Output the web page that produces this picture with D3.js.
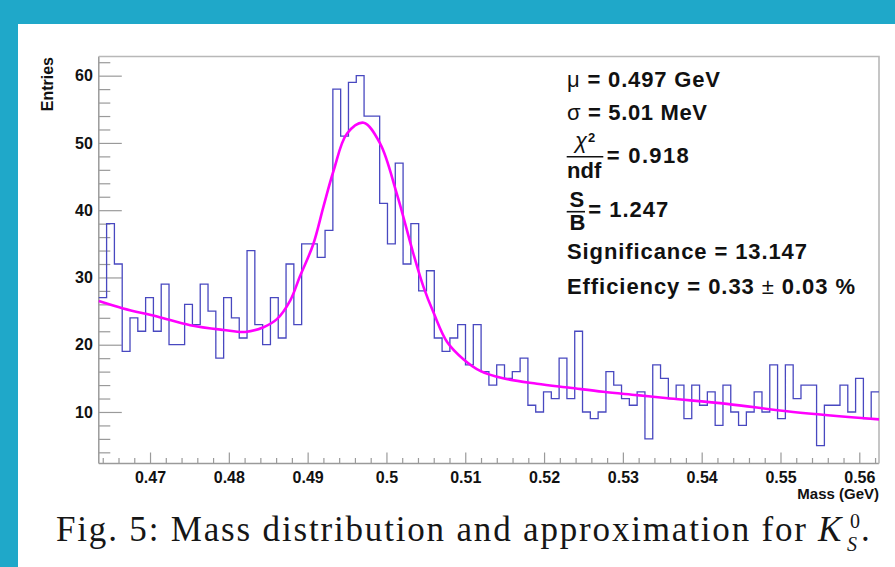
<!DOCTYPE html>
<html>
<head>
<meta charset="utf-8">
<script src="https://cdn.jsdelivr.net/npm/d3@7"></script>
<style>
  html, body { margin: 0; padding: 0; background: #1fa8c9; }
  svg { display: block; }
</style>
</head>
<body>
<svg id="chart" width="895" height="567"></svg>
<script>
// histogram: 100 bins between massMin and massMax
const massMin = 0.4635;
const massMax = 0.5625;
const binCounts = [
  27, 38, 32, 19, 24, 22, 27, 22, 29, 20,
  20, 26, 23, 29, 25, 18, 27, 24, 21, 34,
  23, 20, 27, 21, 32, 23, 35, 35, 33, 37,
  58, 51, 59, 60, 54, 54, 41, 35, 47, 32,
  38, 28, 31, 21, 19, 21, 23, 17, 23, 16,
  14, 17, 15, 16, 18, 11, 10, 13, 12, 18,
  12, 22, 10, 9, 10, 16, 14, 12, 11, 13,
  6, 17, 15, 12, 14, 9, 14, 11, 13, 8,
  14, 10, 8, 10, 13, 10, 17, 9, 17, 12,
  14, 14, 5, 11, 11, 14, 10, 15, 9, 13
];

// fit curve
const fitMass = [0.4635, 0.4666, 0.4709, 0.4751, 0.4793, 0.4821, 0.4844, 0.4861, 0.4878,
  0.4890, 0.4907, 0.4920, 0.4933, 0.4950, 0.4971, 0.4992, 0.5013, 0.5034, 0.5047,
  0.5060, 0.5077, 0.5098, 0.5119, 0.5148, 0.5191, 0.5233, 0.5275, 0.5318, 0.5360,
  0.5432, 0.5516, 0.5625];
const fitValue = [26.5, 25.4, 24.2, 22.9, 22.2, 21.9, 22.6, 23.8, 26.6,
  30.1, 34.9, 40.5, 45.9, 51.4, 53.0, 49.9, 42.5, 33.6, 28.6,
  24.7, 20.4, 17.8, 16.1, 15.0, 14.2, 13.6, 13.0, 12.5, 12.0,
  11.2, 10.0, 8.9];

const xTicks = [0.47, 0.48, 0.49, 0.50, 0.51, 0.52, 0.53, 0.54, 0.55, 0.56];
const yTicks = [10, 20, 30, 40, 50, 60];

const svg = d3.select('#chart');
svg.append('rect').attr('width', 895).attr('height', 567).attr('fill', '#1fa8c9');
svg.append('rect').attr('x', 18).attr('y', 24).attr('width', 877).attr('height', 543).attr('fill', '#ffffff');

const plotLeft = 98.8, plotRight = 879, plotTop = 56.5, plotBottom = 463.5;
let x = d3.scaleLinear().domain([massMin, massMax]).range([plotLeft, plotRight]);
let y = d3.scaleLinear().domain([2.34, 62.85]).range([plotBottom, plotTop]);

const axisColor = '#9a9a9a';
const labelFont = '"Liberation Sans", Arial, Helvetica, sans-serif';

// minor ticks
let xMinor = d3.range(232, 282).filter(i => i % 5 !== 0).map(i => i * 0.002);
let yMinor = d3.range(4, 63, 2).filter(v => v % 10 !== 0);

let gx = svg.append('g').attr('transform', `translate(0,${plotBottom})`);
gx.call(d3.axisBottom(x).tickValues(xMinor).tickSize(-5.5).tickFormat(''));
gx.append('g').call(d3.axisBottom(x).tickValues(xTicks).tickSize(-11).tickPadding(8)
  .tickFormat(d => String(+d.toFixed(2))));

let gy = svg.append('g').attr('transform', `translate(${plotLeft},0)`);
gy.call(d3.axisLeft(y).tickValues(yMinor).tickSize(-11.5).tickFormat(''));
gy.append('g').call(d3.axisLeft(y).tickValues(yTicks).tickSize(-23).tickPadding(6));

svg.selectAll('.domain').remove();
svg.selectAll('.tick line').attr('stroke', axisColor).attr('stroke-width', 1.2);
svg.selectAll('.tick text')
  .attr('fill', '#111')
  .style('font-family', labelFont)
  .style('font-weight', 'bold')
  .style('font-size', '16px');

// axis lines and frame
svg.append('line').attr('x1', plotLeft).attr('x2', plotRight).attr('y1', plotBottom).attr('y2', plotBottom)
  .attr('stroke', axisColor).attr('stroke-width', 1.5);
svg.append('line').attr('x1', plotLeft).attr('x2', plotLeft).attr('y1', plotTop).attr('y2', plotBottom)
  .attr('stroke', axisColor).attr('stroke-width', 1.5);
svg.append('path')
  .attr('d', `M${plotLeft},${plotTop}H${plotRight}V${plotBottom}`)
  .attr('fill', 'none').attr('stroke', '#b8b8b8').attr('stroke-width', 1.6);

// histogram outline
const binWidth = (massMax - massMin) / binCounts.length;
let steps = binCounts.flatMap((c, i) => [
  [massMin + i * binWidth, c],
  [massMin + (i + 1) * binWidth, c]
]);
svg.append('path')
  .datum(steps)
  .attr('fill', 'none')
  .attr('stroke', '#4848c0')
  .attr('stroke-width', 1.3)
  .attr('d', d3.line().x(d => x(d[0])).y(d => y(d[1])));

// fit curve
let fitPoints = fitMass.map((m, i) => [m, fitValue[i]]);
svg.append('path')
  .datum(fitPoints)
  .attr('fill', 'none')
  .attr('stroke', '#ff00ff')
  .attr('stroke-width', 2.6)
  .attr('d', d3.line().curve(d3.curveCatmullRom.alpha(0.5)).x(d => x(d[0])).y(d => y(d[1])));

// axis titles
svg.append('text')
  .attr('x', plotRight).attr('y', 499)
  .attr('text-anchor', 'end')
  .style('font-family', labelFont).style('font-weight', 'bold').style('font-size', '15px')
  .attr('fill', '#111')
  .text('Mass (GeV)');

svg.append('text')
  .attr('transform', 'translate(52.5,57) rotate(-90)')
  .attr('text-anchor', 'end')
  .style('font-family', labelFont).style('font-weight', 'bold').style('font-size', '16px')
  .attr('fill', '#111')
  .text('Entries');

// fit results box
const statFont = 22;
function statText(xp, yp, width) {
  let t = svg.append('text')
    .attr('x', xp).attr('y', yp)
    .style('font-family', labelFont).style('font-weight', 'bold')
    .style('font-size', statFont + 'px')
    .attr('fill', '#111');
  if (width) t.attr('textLength', width).attr('lengthAdjust', 'spacing');
  return t;
}

let muLine = statText(567, 86.7, 153);
muLine.append('tspan').style('font-weight', 'normal').text('\u03bc');
muLine.append('tspan').text(' = 0.497 GeV');

let sigmaLine = statText(567, 120, 140);
sigmaLine.append('tspan').style('font-weight', 'normal').text('\u03c3');
sigmaLine.append('tspan').text(' = 5.01 MeV');

statText(575, 148).append('tspan')
  .style('font-weight', 'normal').style('font-style', 'italic').text('\u03c7');
statText(588, 141.5).style('font-size', '13px').text('2');
svg.append('line').attr('x1', 566.7).attr('x2', 603.3).attr('y1', 156.7).attr('y2', 156.7)
  .attr('stroke', '#111').attr('stroke-width', 1.6);
statText(567, 178.3).text('ndf');
statText(606.7, 163.3, 82).text('= 0.918');

statText(569.5, 206.7).text('S');
svg.append('line').attr('x1', 566.7).attr('x2', 585).attr('y1', 211.7).attr('y2', 211.7)
  .attr('stroke', '#111').attr('stroke-width', 1.6);
statText(569.5, 230).text('B');
statText(588.3, 216.7, 80).text('= 1.247');

statText(567, 259, 240).text('Significance = 13.147');

let effLine = statText(567, 293.5, 288);
effLine.append('tspan').text('Efficiency = 0.33 ');
effLine.append('tspan').style('font-weight', 'normal').text('\u00b1');
effLine.append('tspan').text(' 0.03 %');

// caption
const capFont = '"Liberation Serif", "Times New Roman", serif';
svg.append('text')
  .attr('x', 56).attr('y', 541)
  .attr('textLength', 750).attr('lengthAdjust', 'spacing')
  .style('font-family', capFont).style('font-size', '35px')
  .attr('fill', '#161616')
  .text('Fig. 5:  Mass distribution and approximation for');

let kaon = svg.append('text')
  .attr('x', 818).attr('y', 541)
  .style('font-family', capFont).style('font-size', '35px')
  .attr('fill', '#161616');
kaon.append('tspan').style('font-style', 'italic').text('K');
kaon.append('tspan').attr('x', 850).attr('y', 528).style('font-size', '20px').text('0');
kaon.append('tspan').attr('x', 847).attr('y', 551).style('font-size', '20px')
  .style('font-style', 'italic').text('S');
kaon.append('tspan').attr('x', 861).attr('y', 541).text('.');
</script>
</body>
</html>
